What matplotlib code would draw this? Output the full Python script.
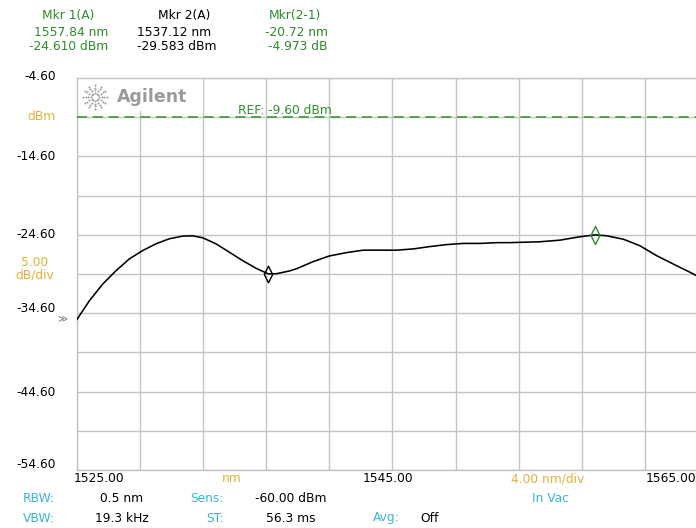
import matplotlib
matplotlib.use("Agg")
import matplotlib.pyplot as plt
import numpy as np
from matplotlib.path import Path

plt.rcParams['font.family'] = ['DejaVu Sans']

# ---- data ----
wavelength_nm = [1525.0, 1525.80, 1526.65, 1527.49, 1528.33, 1529.18, 1530.02, 1530.86,
                 1531.71, 1532.35, 1532.98, 1533.82, 1534.67, 1535.51, 1536.36, 1536.99,
                 1537.12, 1537.67, 1538.5, 1538.93, 1539.98, 1541.0, 1542.1, 1543.15,
                 1544.2, 1545.27, 1546.32, 1547.37, 1548.43, 1549.48, 1550.54, 1551.6,
                 1552.44, 1554.34, 1555.61, 1556.87, 1557.84, 1558.57, 1559.62, 1560.67,
                 1561.73, 1562.78, 1563.84, 1565.0]
power_dbm = [-35.45, -33.02, -30.88, -29.18, -27.68, -26.61, -25.75, -25.11,
             -24.77, -24.73, -24.98, -25.75, -26.82, -27.89, -28.87, -29.45,
             -29.58, -29.56, -29.2, -28.92, -28.02, -27.3, -26.87, -26.56,
             -26.56, -26.56, -26.4, -26.1, -25.85, -25.7, -25.7, -25.6,
             -25.6, -25.49, -25.28, -24.85, -24.61, -24.73, -25.16, -25.99,
             -27.26, -28.32, -29.37, -30.6]
marker1 = (1557.84, -24.610)
marker2 = (1537.12, -29.583)
ref_level = -9.60
x_start, x_stop, x_div = 1525.0, 1565.0, 4.0
y_top, y_div, n_div = -4.60, 5.0, 10
y_tick_labels = ["-4.60", "-14.60", "-24.60", "-34.60", "-44.60", "-54.60"]
x_tick_labels = ["1525.00", "1545.00", "1565.00"]

GREEN = "#2a8c2a"
DGREEN = "#2f8f2f"
GOLD = "#e3b23c"
CYAN = "#3bb4d8"
GRID = "#c4c4c4"

W, H = 696, 528
fig = plt.figure(figsize=(W / 100, H / 100), dpi=100)
fig.patch.set_facecolor("white")

# axes in pixel geometry
left_px, top_px = 76.7, 78.0
xdiv_px, ydiv_px = 63.15, 39.2
ax = fig.add_axes([left_px / W, 1 - (top_px + n_div * ydiv_px) / H,
                   n_div * xdiv_px / W, n_div * ydiv_px / H])
y_bot = y_top - n_div * y_div
ax.set_xlim(x_start, x_stop)
ax.set_ylim(y_bot, y_top)
ax.set_xticks(np.arange(x_start, x_stop + 0.01, x_div))
ax.set_yticks(np.arange(y_bot, y_top + 0.01, y_div))
ax.tick_params(length=0, labelbottom=False, labelleft=False)
ax.grid(True, color=GRID, linewidth=1.0)
for s in ax.spines.values():
    s.set_color(GRID)
    s.set_linewidth(1.0)

# reference line
ax.axhline(ref_level, color="#3a9a3a", linewidth=1.2, linestyle=(0, (6, 3.5)), zorder=3)

# trace
ax.plot(wavelength_nm, power_dbm, color="black", linewidth=1.15, zorder=4,
        solid_joinstyle="round", solid_capstyle="round")

# markers
diamond = Path([(0, 1), (0.5, 0), (0, -1), (-0.5, 0), (0, 1)],
               [Path.MOVETO, Path.LINETO, Path.LINETO, Path.LINETO, Path.CLOSEPOLY])
ax.plot([marker1[0]], [marker1[1]], marker=diamond, markersize=13, markerfacecolor="none",
        markeredgecolor="#2e8b2e", markeredgewidth=1.0, zorder=5, linestyle="none")
ax.plot([marker2[0]], [marker2[1]], marker=diamond, markersize=12, markerfacecolor="none",
        markeredgecolor="black", markeredgewidth=1.0, zorder=5, linestyle="none")

def fx(px):
    return px / W

def fy(py):
    return 1 - py / H

FS = 8.8

# header
fig.text(fx(68), fy(16), "Mkr 1(A)", color=GREEN, fontsize=FS, ha="center", va="center")
fig.text(fx(108), fy(32), f"{marker1[0]:.2f} nm", color=GREEN, fontsize=FS, ha="right", va="center")
fig.text(fx(108), fy(47), f"{marker1[1]:.3f} dBm", color=GREEN, fontsize=FS, ha="right", va="center")
fig.text(fx(184), fy(16), "Mkr 2(A)", color="black", fontsize=FS, ha="center", va="center")
fig.text(fx(137), fy(32), f"{marker2[0]:.2f} nm", color="black", fontsize=FS, ha="left", va="center")
fig.text(fx(137), fy(47), f"{marker2[1]:.3f} dBm", color="black", fontsize=FS, ha="left", va="center")
fig.text(fx(295), fy(16), "Mkr(2-1)", color=GREEN, fontsize=FS, ha="center", va="center")
fig.text(fx(328), fy(32), f"{marker2[0] - marker1[0]:.2f} nm", color=GREEN, fontsize=FS, ha="right", va="center")
fig.text(fx(328), fy(47), f"{marker2[1] - marker1[1]:.3f} dB", color=GREEN, fontsize=FS, ha="right", va="center")

# y labels
y_label_px = [76, 157, 235, 309, 392, 464]
for lab, py in zip(y_tick_labels, y_label_px):
    fig.text(fx(56), fy(py), lab, color="black", fontsize=FS, ha="right", va="center")
fig.text(fx(56), fy(117), "dBm", color=GOLD, fontsize=FS, ha="right", va="center")
fig.text(fx(35), fy(263), "5.00", color=GOLD, fontsize=FS, ha="center", va="center")
fig.text(fx(35), fy(275), "dB/div", color=GOLD, fontsize=FS, ha="center", va="center")
fig.text(fx(62), fy(318), "\u226B", color="#777777", fontsize=7, ha="center", va="center")

# REF text
fig.text(fx(238), fy(110), f"REF: {ref_level:.2f} dBm", color=DGREEN, fontsize=FS, ha="left", va="center")

# Agilent logo
ax.add_patch(plt.Rectangle((0.002, 0.915), 0.198, 0.082, transform=ax.transAxes,
                           facecolor="white", edgecolor="none", zorder=2))
cx, cy = 95, 97
for ang in np.arange(0, 360, 30):
    a = np.deg2rad(ang)
    r = np.linspace(4, 12, 4)
    fig.add_artist(plt.Line2D(fx(cx + r * np.cos(a)), fy(cy + r * np.sin(a)),
                              linestyle="none", marker="o", markersize=1.4,
                              color="#9a9a9a", markeredgewidth=0))
fig.text(fx(117), fy(97), "Agilent", color="#9a9a9a", fontsize=12.5, fontweight="bold",
         ha="left", va="center")

# x labels
fig.text(fx(74), fy(479), x_tick_labels[0], color="black", fontsize=FS, ha="left", va="center")
fig.text(fx(388), fy(479), x_tick_labels[1], color="black", fontsize=FS, ha="center", va="center")
fig.text(fx(646), fy(479), x_tick_labels[2], color="black", fontsize=FS, ha="left", va="center")
fig.text(fx(232), fy(479), "nm", color=GOLD, fontsize=FS, ha="center", va="center")
fig.text(fx(548), fy(479), f"{x_div:.2f} nm/div", color=GOLD, fontsize=FS, ha="center", va="center")

# bottom settings
fig.text(fx(55), fy(498), "RBW:", color=CYAN, fontsize=FS, ha="right", va="center")
fig.text(fx(122), fy(498), "0.5 nm", color="black", fontsize=FS, ha="center", va="center")
fig.text(fx(224), fy(498), "Sens:", color=CYAN, fontsize=FS, ha="right", va="center")
fig.text(fx(291), fy(498), "-60.00 dBm", color="black", fontsize=FS, ha="center", va="center")
fig.text(fx(550), fy(498), "In Vac", color=CYAN, fontsize=FS, ha="center", va="center")
fig.text(fx(55), fy(518), "VBW:", color=CYAN, fontsize=FS, ha="right", va="center")
fig.text(fx(122), fy(518), "19.3 kHz", color="black", fontsize=FS, ha="center", va="center")
fig.text(fx(224), fy(518), "ST:", color=CYAN, fontsize=FS, ha="right", va="center")
fig.text(fx(291), fy(518), "56.3 ms", color="black", fontsize=FS, ha="center", va="center")
fig.text(fx(400), fy(518), "Avg:", color=CYAN, fontsize=FS, ha="right", va="center")
fig.text(fx(420), fy(518), "Off", color="black", fontsize=FS, ha="left", va="center")

fig.savefig("out.png", dpi=100)
